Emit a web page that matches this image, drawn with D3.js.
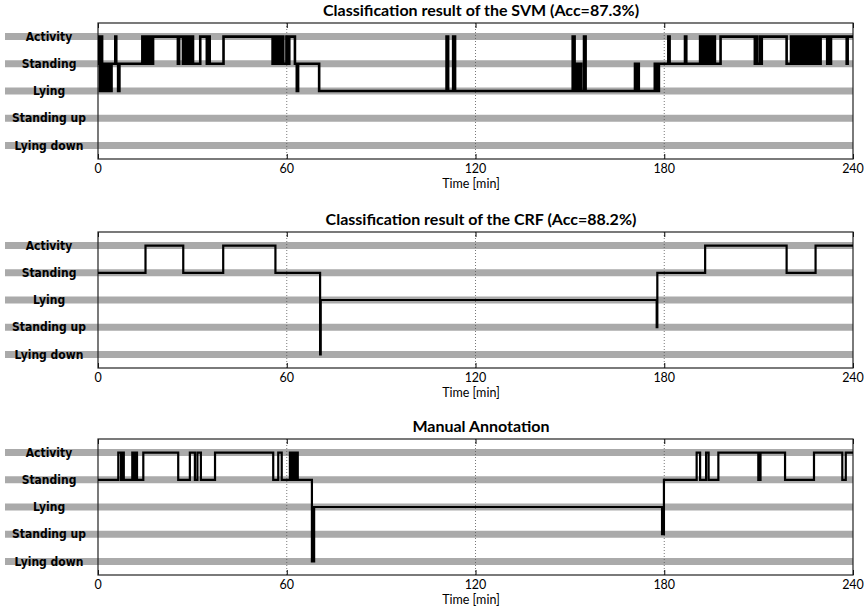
<!DOCTYPE html>
<html>
<head>
<meta charset="utf-8">
<script src="https://cdn.jsdelivr.net/npm/d3@7"></script>
<style>
  body { margin: 0; background: #fff; }
  svg { display: block; }
  .state-label { font-family: "DejaVu Sans Condensed", "DejaVu Sans", sans-serif; font-stretch: condensed; font-weight: bold; font-size: 12px; }
  .title { font-family: Lato, "Open Sans", sans-serif; font-weight: bold; font-size: 16px; }
  .tick-label, .x-label { font-family: Lato, "Open Sans", sans-serif; font-size: 12.5px; }
</style>
</head>
<body>
<div id="chart"></div>
<script>
const width = 868,
    height = 607,
    margin = ({ left: 98, right: 15 }); // dimensions

// state names, top to bottom (1..5)
const states = ["Activity", "Standing", "Lying", "Standing up", "Lying down"];
const timeTicks = [0, 60, 120, 180, 240];
const gridTicks = [60, 120, 180];
const titles = ["Classification result of the SVM (Acc=87.3%)",
                "Classification result of the CRF (Acc=88.2%)",
                "Manual Annotation"];

// [time in min, state index] at each change of state
const svmSteps = [[0,1],[0.4,2],[0.6,3],[1.0,1],[1.3,3],[1.7,2],[2.1,3],[2.5,2],[2.9,3],[3.1,2],
  [3.8,3],[4.3,2],[5.5,1],[5.8,2],[6.4,3],[6.8,2],
  [14.1,1],[14.5,2],[15.2,1],[15.5,2],[15.9,1],[16.3,2],[16.7,1],[17.1,2],[17.5,1],
  [25.4,2],[25.8,1],
  [27.0,2],[27.4,1],[27.8,2],[28.2,1],[28.6,2],[29.0,1],[29.4,2],[29.8,1],[30.2,2],
  [32.5,1],[34.6,2],[35.0,1],[35.5,2],[39.9,1],
  [55.5,2],[55.9,1],[56.3,2],[56.7,1],[57.1,2],[57.5,1],[57.9,2],
  [58.6,1],[58.9,2],[59.9,1],[60.2,2],[60.8,1],[62.6,2],[63.2,3],[63.6,2],[70.3,3],
  [110.8,1],[111.3,3],[112.9,1],[113.5,3],
  [150.9,1],[151.5,3],[152.3,2],[152.6,3],[153.2,2],[153.6,3],[154.5,1],[155.0,3],
  [170.7,2],[171.1,3],[171.4,2],[171.9,3],
  [177.0,2],[177.3,3],[177.7,2],[178.0,3],[178.3,2],
  [181.3,1],[181.7,2],[186.6,1],[187.0,2],
  [191.4,1],[191.8,2],[192.2,1],[192.6,2],[193.0,1],[193.5,2],[194.0,1],[194.4,2],[194.9,1],[195.4,2],[195.8,1],[196.1,2],
  [197.9,1],
  [208.8,2],[209.2,1],[209.5,2],[210.4,1],[210.7,2],[211.0,1],
  [218.9,2],[220.3,1],[220.6,2],[221.0,1],[221.3,2],[221.7,1],[222.0,2],[222.4,1],[222.7,2],[223.1,1],[223.5,2],
  [224.0,1],[224.4,2],[225.0,1],[225.3,2],[225.7,1],[226.0,2],[226.4,1],[226.7,2],[227.1,1],[227.4,2],[227.9,1],
  [228.3,2],[228.6,1],[229.4,2],[229.7,1],[231.8,2],[232.2,1],[232.6,2],[233.0,1],
  [238.0,2],[238.3,1]];

const crfSteps = [[0,2],[15.1,1],[27.1,2],[39.8,1],[56.4,2],[70.6,5],[70.8,3],
  [177.6,4],[177.8,2],[193.0,1],[218.9,2],[228.1,1]];

const manualSteps = [[0,2],[6.45,1],[7.3,2],[7.7,1],[8.2,2],[10.9,1],[11.5,2],[11.9,1],[12.4,2],[14.4,1],
  [25.5,2],[29.2,1],[30.8,2],[31.6,1],[32.7,2],[37.2,1],[55.7,2],[57.3,1],[58.4,2],
  [61.0,1],[61.5,2],[61.8,1],[62.3,2],[62.8,1],[63.5,2],[68.0,5],[68.3,3],[68.5,5],[68.7,3],
  [179.3,4],[179.5,3],[179.7,4],[179.9,2],[190.3,1],[191.4,2],[193.3,1],[194.1,2],[197.2,1],
  [209.9,2],[210.6,1],[218.4,2],[227.6,1],[236.6,2],[237.7,1]];

const panels = [
  { steps: svmSteps, top: 23, stroke: 2.6 },
  { steps: crfSteps, top: 232, stroke: 2.2 },
  { steps: manualSteps, top: 439, stroke: 2.2 }
];
const panelHeight = 136;

const svg = d3.select("#chart")
    .append("svg")
    .attr("width", width)
    .attr("height", height)
    .attr("viewBox", [0, 0, width, height]);

let x = d3.scaleLinear()
    .domain([0, 240])
    .range([margin.left, width - margin.right]);

panels.forEach((p, i) => {
    let y = d3.scaleLinear() // one unit per state, top state first
        .domain([0.5, 5.5])
        .range([p.top, p.top + panelHeight]);

    let g = svg.append("g");

    // grey bands behind each state
    g.selectAll(".band")
      .data(states)
      .join("line")
        .attr("x1", 5)
        .attr("x2", x(240))
        .attr("y1", (d, k) => y(k + 1))
        .attr("y2", (d, k) => y(k + 1))
        .attr("stroke", "#aaaaaa")
        .attr("stroke-width", 7);

    g.selectAll(".state-label")
      .data(states)
      .join("text")
        .attr("class", "state-label")
        .attr("text-anchor", "middle")
        .attr("x", 49)
        .attr("y", (d, k) => y(k + 1))
        .attr("dy", "0.35em")
        .text(d => d);

    // dotted grid at each hour
    g.selectAll(".grid")
      .data(gridTicks)
      .join("line")
        .attr("x1", d => x(d))
        .attr("x2", d => x(d))
        .attr("y1", p.top)
        .attr("y2", p.top + panelHeight)
        .attr("stroke", "#555")
        .attr("stroke-width", 0.8)
        .attr("stroke-dasharray", "1,2");

    // small inward ticks, top and bottom
    g.append("g")
      .attr("transform", `translate(0,${p.top + panelHeight})`)
      .call(d3.axisTop(x).tickValues(timeTicks).tickSize(5).tickFormat(""))
      .call(a => a.select(".domain").remove());
    g.append("g")
      .attr("transform", `translate(0,${p.top})`)
      .call(d3.axisBottom(x).tickValues(timeTicks).tickSize(5).tickFormat(""))
      .call(a => a.select(".domain").remove());

    g.append("rect")
        .attr("x", x(0))
        .attr("y", p.top)
        .attr("width", x(240) - x(0))
        .attr("height", panelHeight)
        .attr("fill", "none")
        .attr("stroke", "#222")
        .attr("stroke-width", 1.2);

    g.selectAll(".tick-label")
      .data(timeTicks)
      .join("text")
        .attr("class", "tick-label")
        .attr("text-anchor", "middle")
        .attr("x", d => x(d))
        .attr("y", p.top + panelHeight + 14)
        .text(d => d);

    g.append("text")
        .attr("class", "x-label")
        .attr("text-anchor", "middle")
        .attr("x", 471)
        .attr("y", p.top + panelHeight + 29)
        .text("Time [min]");

    g.append("text")
        .attr("class", "title")
        .attr("text-anchor", "middle")
        .attr("x", 481)
        .attr("y", p.top - 7)
        .text(titles[i]);

    let line = d3.line()
        .curve(d3.curveStepAfter)
        .x(d => x(d[0]))
        .y(d => y(d[1]));

    let pts = p.steps.concat([[240, p.steps[p.steps.length - 1][1]]]);

    g.append("path")
        .datum(pts)
        .attr("d", line)
        .attr("fill", "none")
        .attr("stroke", "#000")
        .attr("stroke-width", p.stroke)
        .attr("stroke-linejoin", "miter");
});
</script>
</body>
</html>
